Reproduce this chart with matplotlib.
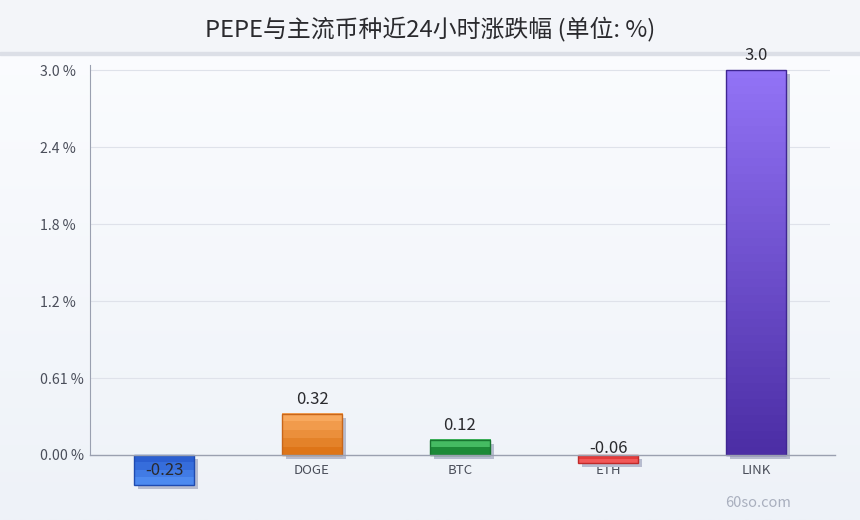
import numpy as np
import matplotlib.pyplot as plt
from matplotlib.patches import Rectangle
from matplotlib import transforms
from matplotlib.colors import LinearSegmentedColormap

plt.rcParams['font.family'] = ['Noto Sans CJK SC', 'DejaVu Sans']

coins = ['PEPE', 'DOGE', 'BTC', 'ETH', 'LINK']
changes = [-0.23, 0.32, 0.12, -0.06, 3.0]
value_labels = ['-0.23', '0.32', '0.12', '-0.06', '3.0']
tick_vals = [0.0, 0.6, 1.2, 1.8, 2.4, 3.0]
tick_labels = ['0.00 %', '0.61 %', '1.2 %', '1.8 %', '2.4 %', '3.0 %']
# (top colour, bottom colour, edge colour)
bar_colors = [
    ('#2b5fd1', '#4d8af0', '#1f4bb0'),
    ('#f8a95e', '#de7518', '#c8661a'),
    ('#45bb62', '#1d8a38', '#187530'),
    ('#e43b3b', '#f25858', '#c02a2a'),
    ('#9273f6', '#4c2ea5', '#3f2692'),
]

W, H = 860, 520
fig = plt.figure(figsize=(W / 100, H / 100), dpi=100)

# background gradient + title band
bg = fig.add_axes([0, 0, 1, 1], zorder=-10)
grad = np.linspace(0, 1, 256).reshape(-1, 1)
bg_cmap = LinearSegmentedColormap.from_list('bg', ['#fcfdff', '#eef2f8'])
bg.imshow(grad, aspect='auto', cmap=bg_cmap, extent=[0, 1, 0, 1], origin='upper')
bg.add_patch(Rectangle((0, 1 - 52 / H), 1, 52 / H, color='#f3f5f9', zorder=2))
bg.add_patch(Rectangle((0, 1 - 55 / H), 1, 3 / H, color='#dcdfe7', zorder=3))
bg.set_xlim(0, 1)
bg.set_ylim(0, 1)
bg.axis('off')

fig.text(0.5, 1 - 29 / H, 'PEPE与主流币种近24小时涨跌幅 (单位: %)', ha='center', va='center',
         fontsize=17.2, color='#2a2a2e')
fig.text(758 / W, 1 - 503 / H, '60so.com', ha='center', va='center', fontsize=10.5, color='#a9afbe')

ymax = 390 / 128.33
ymin = -35 / 128.33
ax = fig.add_axes([90 / W, (H - 490) / H, 740 / W, 425 / H])
ax.patch.set_alpha(0)
x = np.arange(len(coins))
width = 0.41

shadow_tr = transforms.offset_copy(ax.transData, fig=fig, x=4, y=-4, units='dots')
for i, (v, (c_top, c_bot, c_edge)) in enumerate(zip(changes, bar_colors)):
    x0 = x[i] - width / 2
    lo, hi = min(0, v), max(0, v)
    ax.add_patch(Rectangle((x0, lo), width, hi - lo, facecolor='#b7bccf', edgecolor='none',
                           transform=shadow_tr, zorder=2))
    n = max(2, int(round((hi - lo) * 128 / 8)))
    cmap = LinearSegmentedColormap.from_list('b%d' % i, [c_top, c_bot], N=n)
    ax.imshow(np.linspace(0, 1, n).reshape(-1, 1), aspect='auto', cmap=cmap,
              extent=[x0, x0 + width, lo, hi], origin='upper', zorder=3, interpolation='nearest')
    ax.add_patch(Rectangle((x0, lo), width, hi - lo, facecolor='none', edgecolor=c_edge,
                           linewidth=1, zorder=4))
    ax.annotate(value_labels[i], (x[i], v), xytext=(0, 4), textcoords='offset points',
                ha='center', va='bottom', fontsize=12, color='#2a2a2e', zorder=6)

ax.set_xlim(-0.5, len(coins) - 0.5)
ax.set_ylim(ymin, ymax)
ax.set_yticks(tick_vals)
ax.set_yticklabels(tick_labels, ha='left')
ax.set_xticks(x)
ax.set_xticklabels(coins)
ax.tick_params(axis='y', length=0, pad=36, labelsize=10.2, labelcolor='#4a4e5a')
ax.tick_params(axis='x', length=0, pad=-19, labelsize=9.5, labelcolor='#4a4e5a')
for t in tick_vals[1:]:
    ax.axhline(t, color='#dfe2ea', linewidth=0.8, zorder=1)
for s in ['top', 'right', 'bottom']:
    ax.spines[s].set_visible(False)
ax.spines['left'].set_bounds(0, ymax)
ax.spines['left'].set_color('#9aa0b0')
ax.axhline(0, xmin=0, xmax=1.007, color='#9aa0b0', linewidth=1, zorder=5, clip_on=False)

fig.savefig('out.png', dpi=100)
